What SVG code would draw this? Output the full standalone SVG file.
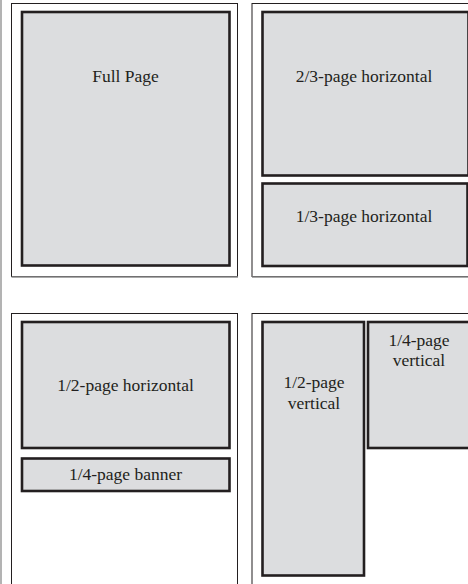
<svg xmlns="http://www.w3.org/2000/svg" width="468" height="584" viewBox="0 0 468 584">
<style>
.panel{fill:#fff;stroke:#231f20;stroke-width:1}
.shadow{stroke:#8c8c8c;stroke-width:1.6;fill:none}
.ad{fill:#dcdddf;stroke:#231f20;stroke-width:2.6}
.lbl{font-family:"Liberation Serif",serif;font-size:17.5px;fill:#231f20;text-anchor:middle}
</style>
<rect x="0" y="0" width="468" height="584" fill="#fff"/>
<line x1="1" y1="0" x2="1" y2="584" stroke="#b3b3b3" stroke-width="2"/>

<g id="panel1">
<rect class="panel" x="11.5" y="3.5" width="226" height="273"/>
<line class="shadow" x1="11.5" y1="277" x2="238" y2="277"/>
</g>
<g id="full-page">
<rect class="ad" x="22" y="12" width="207.5" height="253.5"/>
<text class="lbl" x="125.5" y="81.5">Full Page</text>
</g>

<g id="panel2">
<rect class="panel" x="252" y="3.5" width="230" height="273"/>
<line class="shadow" x1="252" y1="277" x2="468" y2="277"/>
</g>
<g id="two-thirds">
<rect class="ad" x="262.5" y="12" width="206" height="163.5"/>
<text class="lbl" x="364" y="81.5">2/3-page horizontal</text>
</g>
<g id="one-third">
<rect class="ad" x="262.5" y="183.5" width="205" height="82.5"/>
<text class="lbl" x="364" y="222">1/3-page horizontal</text>
</g>

<g id="panel3">
<rect class="panel" x="11.5" y="313.5" width="226" height="280"/>
</g>
<g id="half-horizontal">
<rect class="ad" x="22" y="322" width="207.5" height="126"/>
<text class="lbl" x="125.5" y="391">1/2-page horizontal</text>
</g>
<g id="quarter-banner">
<rect class="ad" x="22" y="458.5" width="207.5" height="32.5"/>
<text class="lbl" x="125.5" y="480">1/4-page banner</text>
</g>

<g id="panel4">
<rect class="panel" x="252" y="313.5" width="230" height="280"/>
</g>
<g id="half-vertical">
<rect class="ad" x="262.5" y="322" width="101.5" height="253.5"/>
<text class="lbl" x="314" y="387.5">1/2-page</text>
<text class="lbl" x="314" y="408.5">vertical</text>
</g>
<g id="quarter-vertical">
<rect class="ad" x="368" y="322" width="102" height="126"/>
<text class="lbl" x="419" y="346">1/4-page</text>
<text class="lbl" x="419" y="366">vertical</text>
</g>
</svg>
